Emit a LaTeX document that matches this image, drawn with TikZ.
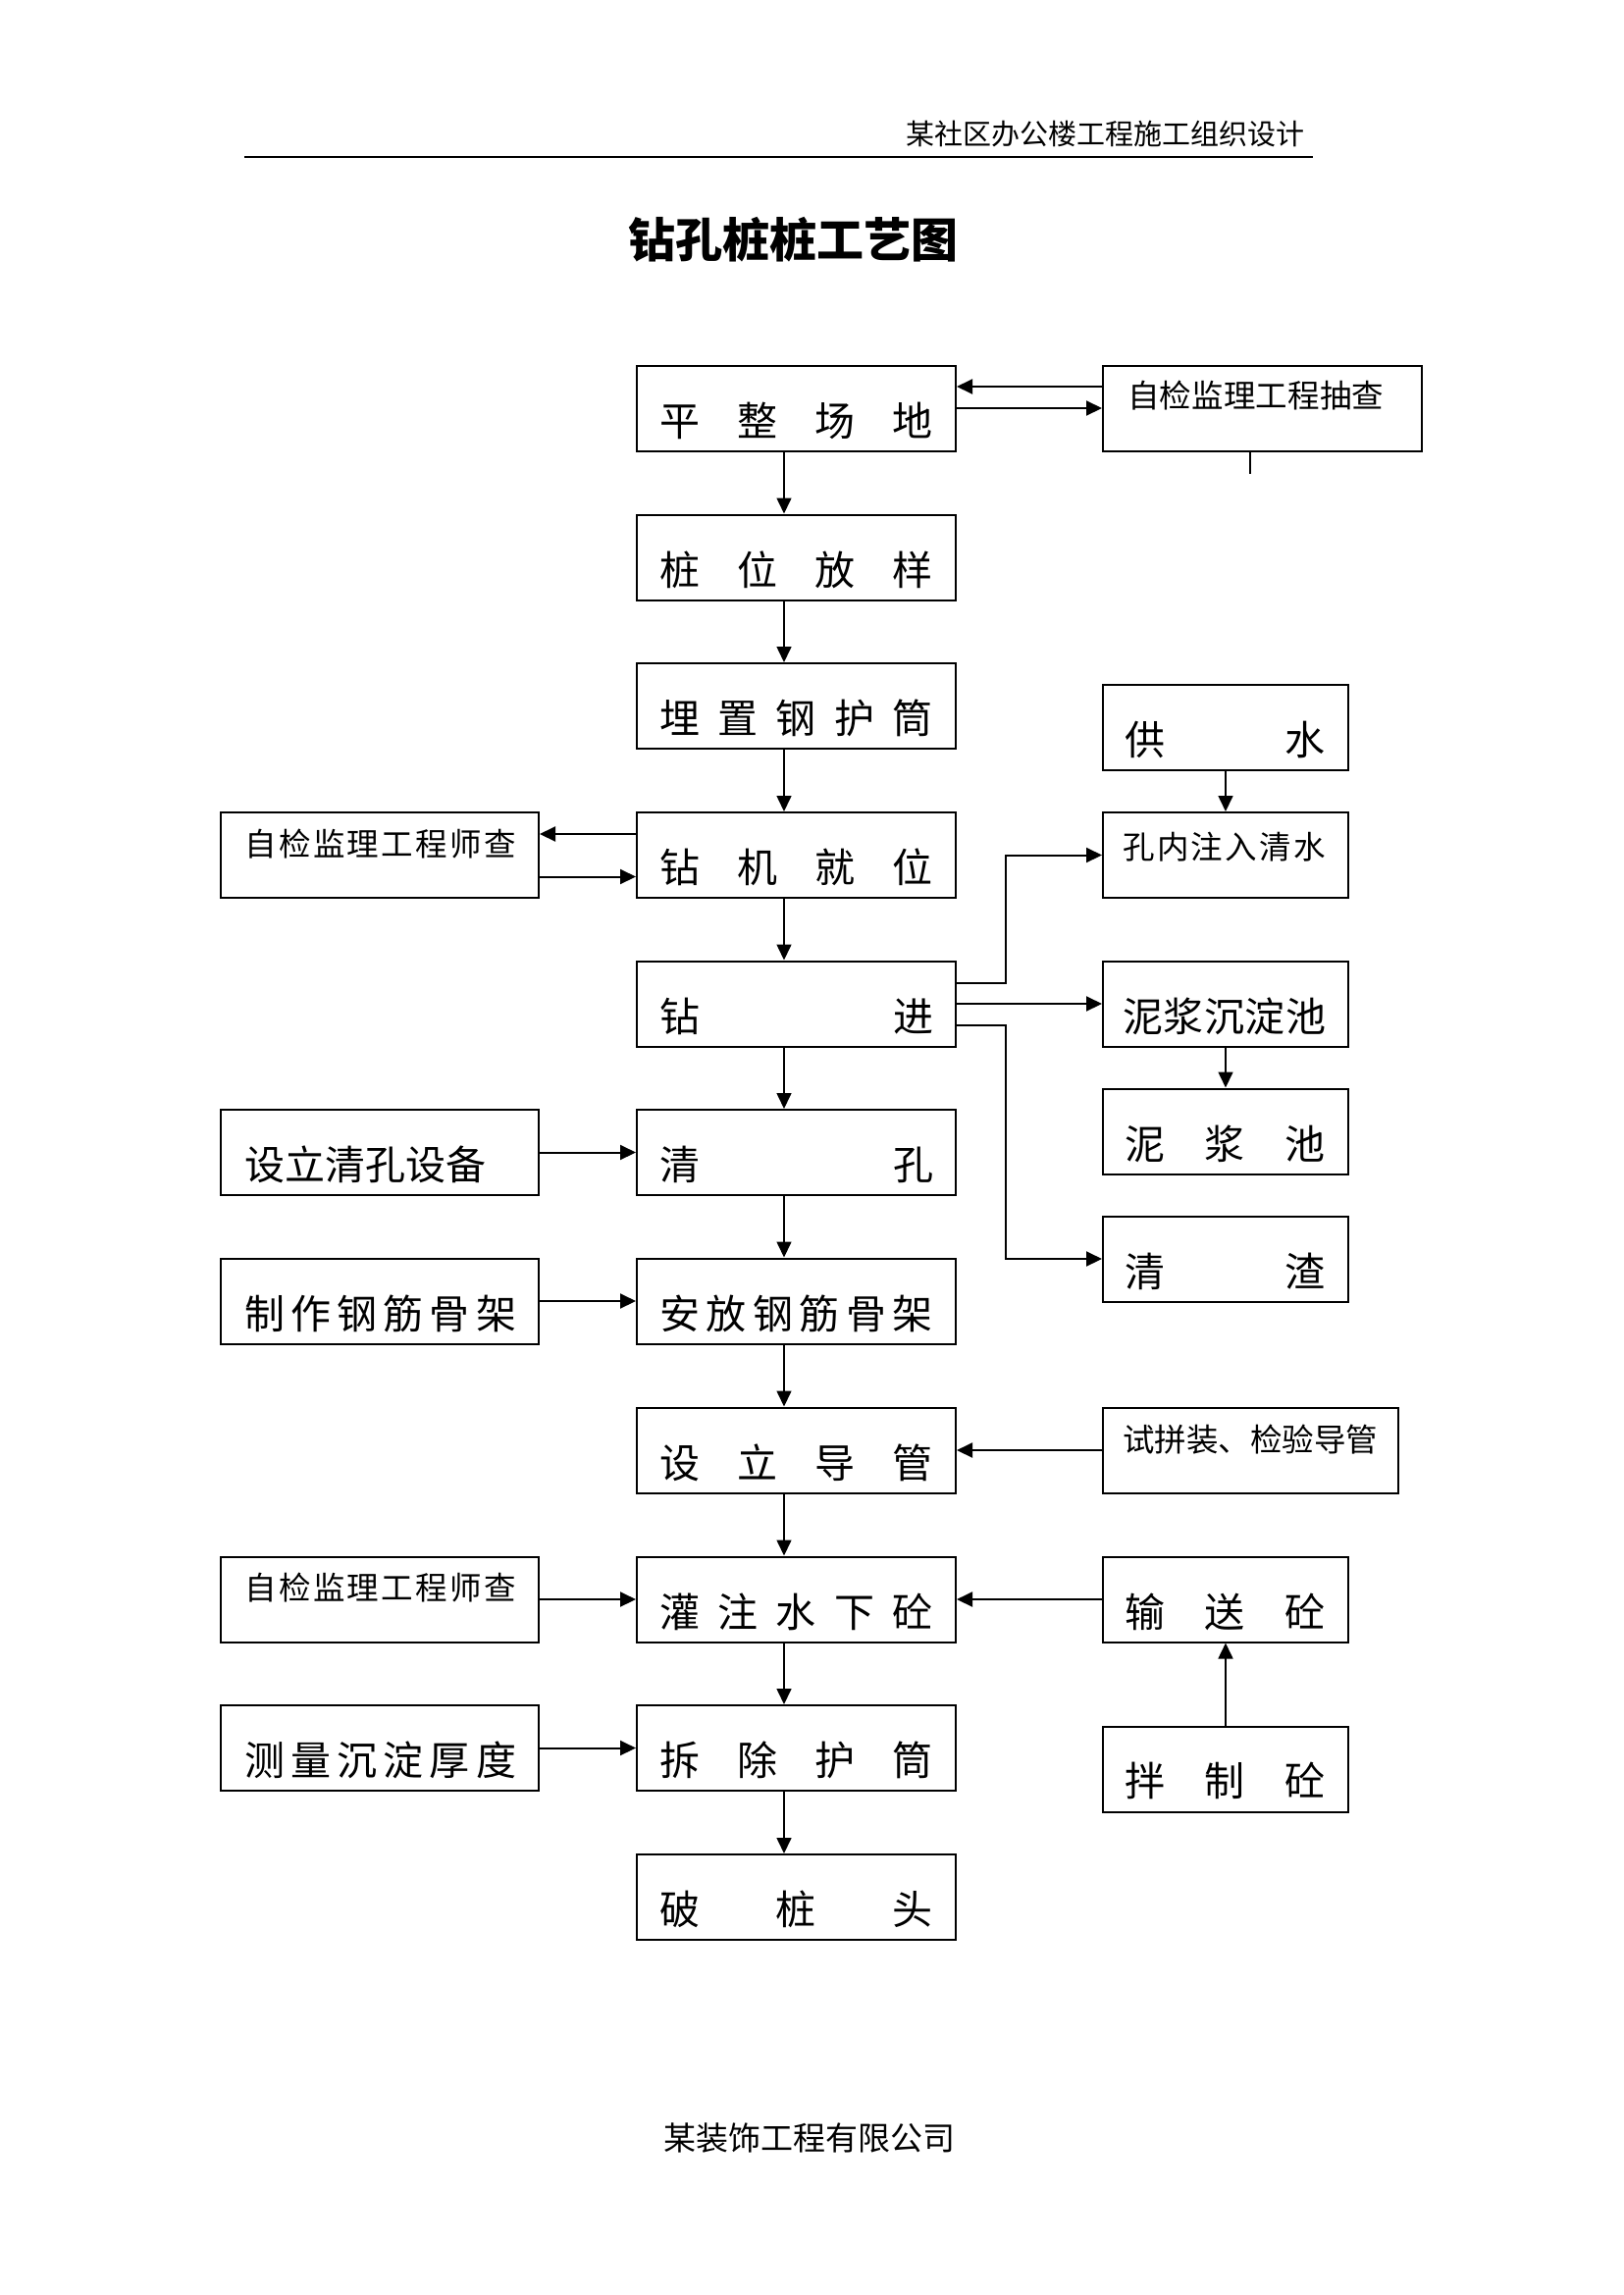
\documentclass[tikz,border=0pt]{standalone}
\usepackage{fontspec}
\setmainfont{Noto Sans CJK SC}
\usetikzlibrary{arrows.meta,calc}
\begin{document}
\begin{tikzpicture}[x=1pt,y=-1pt,
  box/.style={draw,line width=2pt,inner sep=0,minimum height=87pt},
  mainbox/.style={box,minimum width=325pt},
  sidebox/.style={box,minimum width=324pt},
  rbox/.style={box,minimum width=250pt},
  bigt/.style={inner sep=0,font=\fontsize{41}{50}\selectfont},
  smallt/.style={inner sep=0,font=\fontsize{32.5}{40}\selectfont},
  arr/.style={line width=1.6pt,-{Triangle[length=16pt,width=15pt]}},
  harr/.style={line width=2pt,-{Triangle[length=16pt,width=15pt]}},
  ln/.style={line width=1.6pt}]
\useasboundingbox (0,0) rectangle (1654,2339);

% header, title, footer
\node[inner sep=0,anchor=east,font=\fontsize{29}{34}\selectfont] (hdr) at (1330,136.5) {某社区办公楼工程施工组织设计};
\coordinate (hl) at (249,160);
\coordinate (hr) at (1338,160);
\draw[line width=2.5pt] (hl) -- (hr);
\node[inner sep=0,font=\fontsize{48}{56}\selectfont\bfseries] (title) at (808,244) {钻孔桩桩工艺图};
\node[inner sep=0,font=\fontsize{33}{40}\selectfont] (foot) at (825,2179) {某装饰工程有限公司};

% main column
\node[mainbox] (m1) at (811.5,416) {};
\node[mainbox] (m2) at (811.5,568) {};
\node[mainbox] (m3) at (811.5,719.5) {};
\node[mainbox] (m4) at (811.5,871.5) {};
\node[mainbox] (m5) at (811.5,1023) {};
\node[mainbox] (m6) at (811.5,1174.5) {};
\node[mainbox] (m7) at (811.5,1326) {};
\node[mainbox] (m8) at (811.5,1478) {};
\node[mainbox] (m9) at (811.5,1630) {};
\node[mainbox] (m10) at (811.5,1781.5) {};
\node[mainbox] (m11) at (811.5,1933.5) {};

\node[bigt] (m1t) at ([yshift=32pt]m1.south) {\hbox to 279pt{平\hfill 整\hfill 场\hfill 地}};
\node[bigt] (m2t) at ([yshift=32pt]m2.south) {\hbox to 279pt{桩\hfill 位\hfill 放\hfill 样}};
\node[bigt] (m3t) at ([yshift=32pt]m3.south) {\hbox to 279pt{埋\hfill 置\hfill 钢\hfill 护\hfill 筒}};
\node[bigt] (m4t) at ([yshift=32pt]m4.south) {\hbox to 279pt{钻\hfill 机\hfill 就\hfill 位}};
\node[bigt] (m5t) at ([yshift=32pt]m5.south) {\hbox to 279pt{钻\hfill 进}};
\node[bigt] (m6t) at ([yshift=32pt]m6.south) {\hbox to 279pt{清\hfill 孔}};
\node[bigt] (m7t) at ([yshift=32pt]m7.south) {\hbox to 279pt{安\hfill 放\hfill 钢\hfill 筋\hfill 骨\hfill 架}};
\node[bigt] (m8t) at ([yshift=32pt]m8.south) {\hbox to 279pt{设\hfill 立\hfill 导\hfill 管}};
\node[bigt] (m9t) at ([yshift=32pt]m9.south) {\hbox to 279pt{灌\hfill 注\hfill 水\hfill 下\hfill 砼}};
\node[bigt] (m10t) at ([yshift=32pt]m10.south) {\hbox to 279pt{拆\hfill 除\hfill 护\hfill 筒}};
\node[bigt] (m11t) at ([yshift=32pt]m11.south) {\hbox to 279pt{破\hfill 桩\hfill 头}};

% left column
\node[sidebox] (l1) at (387,871.5) {};
\node[sidebox] (l2) at (387,1174.5) {};
\node[sidebox] (l3) at (387,1326) {};
\node[sidebox] (l4) at (387,1630) {};
\node[sidebox] (l5) at (387,1781.5) {};

\node[smallt,anchor=west] (l1t) at ([xshift=25pt,yshift=-33pt]l1.north west) {\hbox to 277pt{自\hfill 检\hfill 监\hfill 理\hfill 工\hfill 程\hfill 师\hfill 查}};
\node[bigt,anchor=west] (l2t) at ([xshift=25pt,yshift=32pt]l2.south west) {设立清孔设备};
\node[bigt,anchor=west] (l3t) at ([xshift=25pt,yshift=32pt]l3.south west) {\hbox to 277pt{制\hfill 作\hfill 钢\hfill 筋\hfill 骨\hfill 架}};
\node[smallt,anchor=west] (l4t) at ([xshift=25pt,yshift=-33pt]l4.north west) {\hbox to 277pt{自\hfill 检\hfill 监\hfill 理\hfill 工\hfill 程\hfill 师\hfill 查}};
\node[bigt,anchor=west] (l5t) at ([xshift=25pt,yshift=32pt]l5.south west) {\hbox to 277pt{测\hfill 量\hfill 沉\hfill 淀\hfill 厚\hfill 度}};

% right column
\node[box,minimum width=325pt] (r0) at (1286.5,416) {};
\node[rbox] (r1) at (1249,741.5) {};
\node[rbox] (r2) at (1249,871.5) {};
\node[rbox] (r3) at (1249,1023) {};
\node[rbox] (r4) at (1249,1153) {};
\node[rbox] (r5) at (1249,1283) {};
\node[box,minimum width=301pt] (r6) at (1274.5,1478) {};
\node[rbox] (r7) at (1249,1630) {};
\node[rbox] (r8) at (1249,1803.5) {};

\node[smallt,anchor=west] (r0t) at ([xshift=26pt,yshift=-32pt]r0.north west) {\hbox to 261pt{自\hfill 检\hfill 监\hfill 理\hfill 工\hfill 程\hfill 抽\hfill 查}};
\node[bigt,anchor=west] (r1t) at ([xshift=23pt,yshift=32pt]r1.south west) {\hbox to 204pt{供\hfill 水}};
\node[smallt,anchor=west] (r2t) at ([xshift=21pt,yshift=-36pt]r2.north west) {\hbox to 207pt{孔\hfill 内\hfill 注\hfill 入\hfill 清\hfill 水}};
\node[bigt,anchor=west] (r3t) at ([xshift=21pt,yshift=32pt]r3.south west) {\hbox to 207pt{泥\hfill 浆\hfill 沉\hfill 淀\hfill 池}};
\node[bigt,anchor=west] (r4t) at ([xshift=23pt,yshift=32pt]r4.south west) {\hbox to 204pt{泥\hfill 浆\hfill 池}};
\node[bigt,anchor=west] (r5t) at ([xshift=23pt,yshift=32pt]r5.south west) {\hbox to 204pt{清\hfill 渣}};
\node[smallt,anchor=west] (r6t) at ([xshift=21pt,yshift=-34pt]r6.north west) {试拼装、检验导管};
\node[bigt,anchor=west] (r7t) at ([xshift=23pt,yshift=32pt]r7.south west) {\hbox to 204pt{输\hfill 送\hfill 砼}};
\node[bigt,anchor=west] (r8t) at ([xshift=23pt,yshift=33pt]r8.south west) {\hbox to 204pt{拌\hfill 制\hfill 砼}};

% main vertical arrows
\foreach \a/\b in {m1/m2,m2/m3,m3/m4,m4/m5,m5/m6,m6/m7,m7/m8,m8/m9,m9/m10,m10/m11}
  \draw[arr] ([xshift=-12.5pt]\a.south) -- ([xshift=-12.5pt]\b.north);

% top check loop
\draw[harr] ([yshift=22pt]r0.west) -- ([yshift=22pt]m1.east);
\draw[harr] (m1.east) -- (r0.west);
\draw[ln] ([xshift=-12.5pt]r0.south) -- ++(0,22);

% drill rig check loop
\draw[harr] ([yshift=21.5pt]m4.west) -- ([yshift=21.5pt]l1.east);
\draw[harr] ([yshift=-22pt]l1.east) -- ([yshift=-22pt]m4.west);

% water supply
\draw[arr] (r1.south) -- (r2.north);

% drilling outputs
\draw[harr] ([yshift=21pt]m5.east) -- ++(50,0) |- (r2.west);
\draw[harr] (m5.east) -- (r3.west);
\draw[harr] ([yshift=-22pt]m5.east) -- ++(50,0) |- (r5.west);
\draw[arr] (r3.south) -- (r4.north);

% left inputs
\draw[harr] (l2.east) -- (m6.west);
\draw[harr] (l3.east) -- (m7.west);
\draw[harr] (l4.east) -- (m9.west);
\draw[harr] (l5.east) -- (m10.west);

% right inputs
\draw[harr] (r6.west) -- (m8.east);
\draw[harr] (r7.west) -- (m9.east);
\draw[arr] (r8.north) -- (r7.south);

\end{tikzpicture}
\end{document}
